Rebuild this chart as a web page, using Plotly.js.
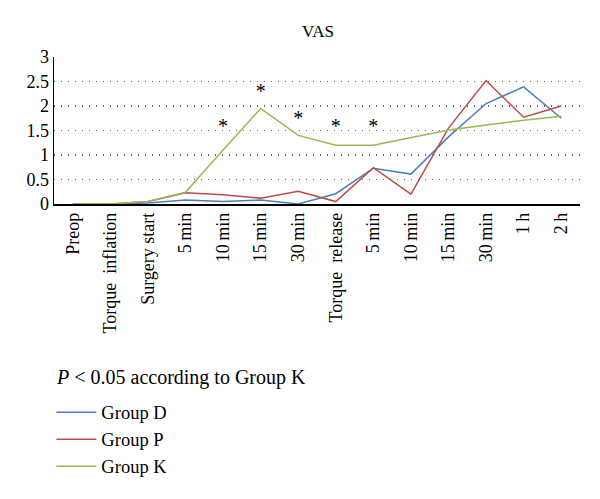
<!DOCTYPE html>
<html>
<head>
<meta charset="utf-8">
<script src="https://cdn.plot.ly/plotly-3.0.1.min.js"></script>
<style>html,body{margin:0;padding:0;background:#fff;}#chart{width:600px;height:499px;}</style>
</head>
<body>
<div id="chart"></div>
<script>
const timeLabels = ["Preop", "Torque\u00a0\u00a0inflation", "Surgery start", "5\u2009min", "10\u2009min", "15\u2009min", "30\u2009min",
  "Torque\u00a0\u00a0release", "5\u2009min", "10\u2009min", "15\u2009min", "30\u2009min", "1\u2009h", "2\u2009h"];
const groupD = [0, 0, 0.02, 0.08, 0.05, 0.08, 0.0, 0.21, 0.73, 0.61, 1.37, 2.05, 2.39, 1.75];
const groupP = [0, 0, 0.05, 0.23, 0.19, 0.12, 0.26, 0.05, 0.74, 0.20, 1.55, 2.52, 1.77, 2.0];
const groupK = [0, 0, 0.05, 0.24, 1.10, 1.95, 1.40, 1.20, 1.20, 1.36, 1.51, 1.61, 1.71, 1.79];
const sigIndex = [4, 5, 6, 7, 8];
const sigY = [1.55, 2.27, 1.72, 1.55, 1.55];
const yTicks = [0, 0.5, 1, 1.5, 2, 2.5, 3];

const xIdx = timeLabels.map((_, i) => i);
const serif = "Liberation Serif, Times New Roman, serif";

const traces = [
  {x: xIdx, y: groupD, name: "Group D", mode: "lines", line: {color: "#4a7ebb", width: 1.5}},
  {x: xIdx, y: groupP, name: "Group P", mode: "lines", line: {color: "#be4b48", width: 1.5}},
  {x: xIdx, y: groupK, name: "Group K", mode: "lines", line: {color: "#98b954", width: 1.5}},
  {x: sigIndex, y: sigY, mode: "text", text: sigIndex.map(() => "*"), textposition: "middle center",
   textfont: {family: serif, size: 20, color: "#000"}, showlegend: false, hoverinfo: "skip"}
];

const layout = {
  width: 600, height: 499,
  margin: {l: 54, r: 20, t: 57, b: 295},
  paper_bgcolor: "#fff", plot_bgcolor: "#fff",
  font: {family: serif, size: 18, color: "#000"},
  title: {text: "VAS", font: {family: serif, size: 17, color: "#000"}, x: 0.53, xanchor: "center", y: 0.938, yanchor: "middle"},
  xaxis: {
    range: [-0.5, 13.5], tickmode: "array", tickvals: xIdx, ticktext: timeLabels,
    tickangle: -90, showgrid: false, zeroline: false, showline: true, linecolor: "#000", linewidth: 1.5,
    ticks: "", tickfont: {family: serif, size: 18, color: "#000"}, fixedrange: true
  },
  yaxis: {
    range: [0, 3], tickmode: "array", tickvals: yTicks, ticktext: yTicks.map(String),
    showgrid: true, gridcolor: "#666", griddash: "1px,6px", gridwidth: 1.2,
    zeroline: false, showline: true, linecolor: "#000", linewidth: 1.5, ticks: "",
    tickfont: {family: serif, size: 18, color: "#000"}, fixedrange: true
  },
  showlegend: true,
  legend: {x: -0.005, xanchor: "left", y: -1.29, yanchor: "top", orientation: "v",
    font: {family: serif, size: 18.5, color: "#000"}, tracegroupgap: 0, itemwidth: 40, bgcolor: "rgba(0,0,0,0)"},
  annotations: [
    {text: "<i>P</i> < 0.05 according to Group K", xref: "paper", yref: "paper", x: 0.0, y: -1.18,
     xanchor: "left", yanchor: "middle", showarrow: false, font: {family: serif, size: 20, color: "#000"}}
  ]
};

Plotly.newPlot("chart", traces, layout, {displayModeBar: false, staticPlot: true});
</script>
</body>
</html>
